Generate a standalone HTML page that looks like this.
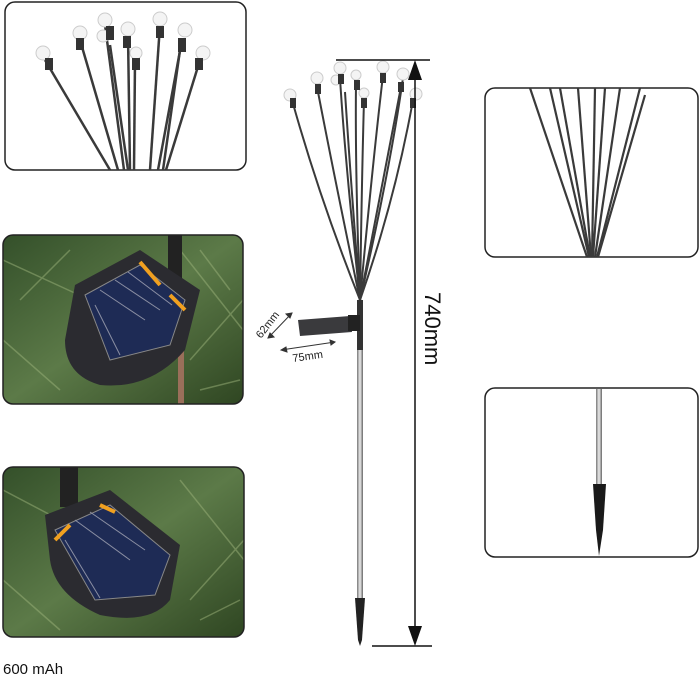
<!DOCTYPE html>
<html><head><meta charset="utf-8"><style>
html,body{margin:0;padding:0;background:#fff;}
body{width:700px;height:678px;position:relative;overflow:hidden;font-family:"Liberation Sans",sans-serif;}
svg{position:absolute;left:0;top:0;}
</style></head><body>
<svg width="700" height="678" viewBox="0 0 700 678" xmlns="http://www.w3.org/2000/svg">
<defs>
<linearGradient id="grass" x1="0" y1="0" x2="1" y2="1">
<stop offset="0" stop-color="#34502a"/><stop offset="0.5" stop-color="#5c7a48"/><stop offset="1" stop-color="#2f4622"/></linearGradient>
<linearGradient id="pole" x1="0" x2="1"><stop offset="0" stop-color="#777"/><stop offset="0.5" stop-color="#eee"/><stop offset="1" stop-color="#666"/></linearGradient>
<clipPath id="c1"><rect x="3" y="235" width="240" height="169" rx="10"/></clipPath>
<clipPath id="c2"><rect x="3" y="467" width="241" height="170" rx="10"/></clipPath>
<clipPath id="c3"><rect x="5" y="2" width="241" height="168" rx="10"/></clipPath>
<clipPath id="c4"><rect x="485" y="88" width="213" height="169" rx="10"/></clipPath>
</defs>

<rect x="5" y="2" width="241" height="168" rx="10" fill="#fff" stroke="#222" stroke-width="1.5"/>
<g clip-path="url(#c3)" stroke="#3a3a3a" stroke-width="2.5" fill="none">
<path d="M45 60 L110 170"/><path d="M80 40 L118 170"/><path d="M105 25 L124 170"/><path d="M110 45 L128 170"/>
<path d="M128 35 L130 170"/><path d="M135 60 L134 170"/><path d="M160 25 L150 170"/><path d="M182 40 L158 170"/>
<path d="M180 50 L163 170"/><path d="M200 60 L166 170"/>
</g>
<g fill="#f4f4f4" stroke="#ccc">
<circle cx="43" cy="53" r="7"/><circle cx="80" cy="33" r="7"/><circle cx="105" cy="20" r="7"/><circle cx="103" cy="36" r="6"/>
<circle cx="128" cy="29" r="7"/><circle cx="136" cy="53" r="6"/><circle cx="160" cy="19" r="7"/><circle cx="185" cy="30" r="7"/>
<circle cx="203" cy="53" r="7"/>
</g>
<g fill="#333">
<rect x="45" y="58" width="8" height="12"/><rect x="76" y="38" width="8" height="12"/><rect x="106" y="26" width="8" height="14"/>
<rect x="123" y="36" width="8" height="12"/><rect x="132" y="58" width="8" height="12"/><rect x="156" y="26" width="8" height="12"/>
<rect x="178" y="38" width="8" height="14"/><rect x="195" y="58" width="8" height="12"/>
</g>

<g clip-path="url(#c1)">
<rect x="3" y="235" width="240" height="169" fill="url(#grass)"/>
<g stroke="#9bb27a" stroke-width="1.5" opacity="0.5"><path d="M3 260 L90 300"/><path d="M180 250 L243 330"/><path d="M3 340 L60 390"/><path d="M190 360 L243 300"/><path d="M200 390 L240 380"/><path d="M20 300 L70 250"/><path d="M200 250 L230 290"/></g>
<rect x="168" y="235" width="14" height="60" fill="#222"/>
<rect x="178" y="330" width="6" height="74" fill="#9a6f5a"/>
<path d="M75 285 L140 250 L200 290 L185 350 Q150 390 100 385 Q65 375 65 340 Z" fill="#2b2b30"/>
<path d="M85 295 L140 265 L185 300 L170 345 L110 360 Z" fill="#1e2b55" stroke="#888"/>
<g stroke="#8b8fa3" stroke-width="1"><path d="M100 290 L145 320"/><path d="M115 280 L160 310"/><path d="M128 272 L172 305"/><path d="M95 305 L120 355"/></g>
<path d="M140 262 L160 285" stroke="#f0a020" stroke-width="4"/><path d="M170 295 L185 310" stroke="#f0a020" stroke-width="4"/>
</g>
<rect x="3" y="235" width="240" height="169" rx="10" fill="none" stroke="#222" stroke-width="1.5"/>

<g clip-path="url(#c2)">
<rect x="3" y="467" width="241" height="170" fill="url(#grass)"/>
<g stroke="#9bb27a" stroke-width="1.5" opacity="0.5"><path d="M3 490 L60 520"/><path d="M180 480 L244 560"/><path d="M3 580 L60 630"/><path d="M190 600 L244 540"/><path d="M200 620 L240 600"/></g>
<rect x="60" y="467" width="18" height="40" fill="#222"/>
<path d="M45 515 L110 490 L180 545 L170 600 Q150 625 100 615 Q55 595 50 560 Z" fill="#2b2b30"/>
<path d="M55 530 L110 505 L170 555 L155 595 L95 600 Z" fill="#1e2b55" stroke="#888"/>
<g stroke="#8b8fa3" stroke-width="1"><path d="M75 520 L130 560"/><path d="M90 512 L145 550"/><path d="M65 540 L100 598"/></g>
<path d="M70 525 L55 540" stroke="#f0a020" stroke-width="4"/><path d="M100 505 L115 512" stroke="#f0a020" stroke-width="4"/>
</g>
<rect x="3" y="467" width="241" height="170" rx="10" fill="none" stroke="#222" stroke-width="1.5"/>

<g stroke="#3a3a3a" stroke-width="2" fill="none">
<path d="M360 300 Q320 200 292 100"/><path d="M360 300 Q335 180 318 92"/><path d="M360 300 Q345 160 340 78"/>
<path d="M360 300 Q350 170 345 92"/><path d="M360 300 Q355 170 356 82"/><path d="M360 300 Q362 170 364 100"/>
<path d="M360 300 Q372 170 383 75"/><path d="M360 300 Q385 170 400 92"/><path d="M360 300 Q390 170 403 78"/>
<path d="M360 300 Q395 200 413 100"/>
</g>
<g fill="#f4f4f4" stroke="#ccc">
<circle cx="290" cy="95" r="6"/><circle cx="317" cy="78" r="6"/><circle cx="340" cy="68" r="6"/><circle cx="336" cy="80" r="5"/>
<circle cx="356" cy="75" r="5"/><circle cx="364" cy="93" r="5"/><circle cx="383" cy="67" r="6"/><circle cx="403" cy="74" r="6"/>
<circle cx="416" cy="94" r="6"/>
</g>
<g fill="#333">
<rect x="290" y="98" width="6" height="10"/><rect x="315" y="84" width="6" height="10"/><rect x="338" y="74" width="6" height="10"/>
<rect x="354" y="80" width="6" height="10"/><rect x="361" y="98" width="6" height="10"/><rect x="380" y="73" width="6" height="10"/>
<rect x="398" y="82" width="6" height="10"/><rect x="410" y="98" width="6" height="10"/>
</g>
<rect x="357" y="300" width="6" height="50" fill="#333"/>
<rect x="357" y="350" width="6" height="248" fill="url(#pole)"/>
<path d="M355 598 L365 598 L362 640 L360 646 L358 640 Z" fill="#222"/>
<path d="M298 320 L350 316 L352 332 L300 336 Z" fill="#3a3a3d"/>
<rect x="348" y="315" width="12" height="16" fill="#222"/>

<g stroke="#333" stroke-width="1" fill="#333">
<path d="M268 338 L292 313"/><path d="M268 338 l6 -1 l-4 -4 Z"/><path d="M292 313 l-6 1 l4 4 Z"/>
<path d="M281 350 L335 342"/><path d="M281 350 l5 -3 l1 5 Z"/><path d="M335 342 l-5 -2 l1 5 Z"/>
</g>
<text x="0" y="0" font-size="11" fill="#222" transform="translate(261,339) rotate(-52)">62mm</text>
<text x="0" y="0" font-size="11" fill="#222" transform="translate(293,362) rotate(-8)">75mm</text>

<g stroke="#111" stroke-width="1.5">
<line x1="336" y1="60" x2="430" y2="60"/><line x1="372" y1="646" x2="432" y2="646"/>
<line x1="415" y1="66" x2="415" y2="640"/>
</g>
<path d="M408 80 L415 60 L422 80 Z" fill="#111"/><path d="M408 626 L415 646 L422 626 Z" fill="#111"/>
<text x="0" y="0" font-size="22" fill="#111" transform="translate(425,292) rotate(90)">740mm</text>

<rect x="485" y="88" width="213" height="169" rx="10" fill="#fff" stroke="#222" stroke-width="1.5"/>
<g clip-path="url(#c4)" stroke="#3a3a3a" stroke-width="2.2" fill="none">
<path d="M530 88 L587 257"/><path d="M550 88 L589 257"/><path d="M578 88 L591 257"/><path d="M595 88 L592 257"/>
<path d="M605 88 L593 257"/><path d="M620 88 L595 257"/><path d="M640 88 L597 257"/><path d="M645 95 L598 257"/><path d="M560 88 L590 257"/>
</g>

<rect x="485" y="388" width="213" height="169" rx="10" fill="#fff" stroke="#222" stroke-width="1.5"/>
<rect x="596" y="389" width="6" height="95" fill="url(#pole)"/>
<path d="M593 484 L606 484 L603 530 L599 556 L596 530 Z" fill="#1a1a1a"/>

<text x="3" y="674" font-size="15" fill="#111">600 mAh</text>
</svg>
</body></html>
